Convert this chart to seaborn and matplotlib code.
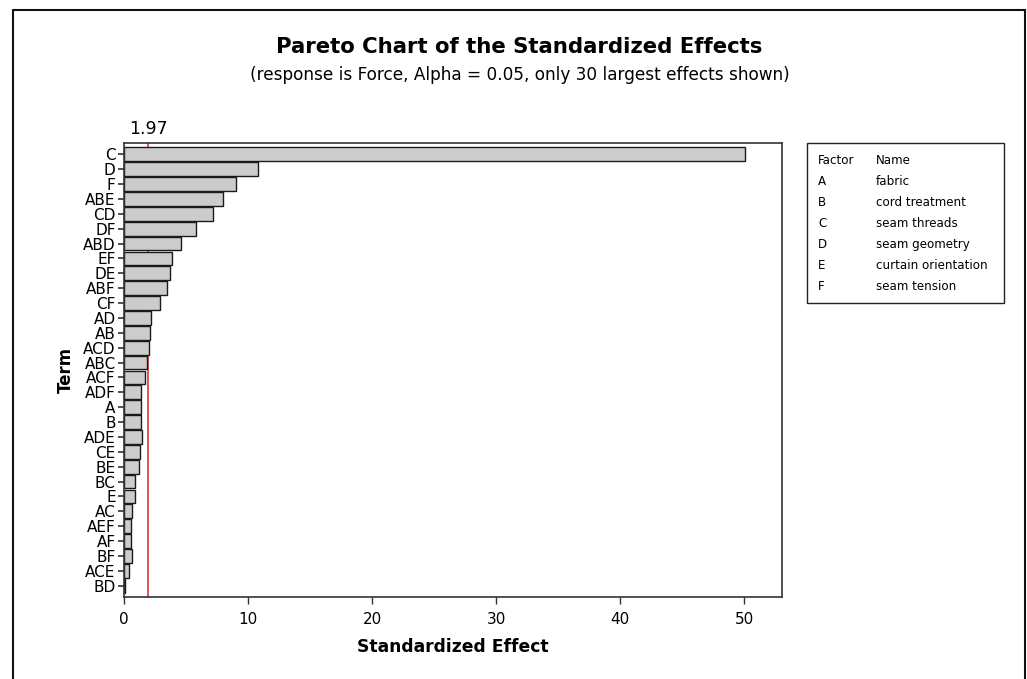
import matplotlib
matplotlib.use("Agg")
import matplotlib.pyplot as plt
import seaborn as sns
from matplotlib.patches import Rectangle
from matplotlib.lines import Line2D

# Data
terms = ["C", "D", "F", "ABE", "CD", "DF", "ABD", "EF", "DE", "ABF",
         "CF", "AD", "AB", "ACD", "ABC", "ACF", "ADF", "A", "B", "ADE",
         "CE", "BE", "BC", "E", "AC", "AEF", "AF", "BF", "ACE", "BD"]
effects = [50.1, 10.8, 9.0, 8.0, 7.2, 5.8, 4.6, 3.9, 3.7, 3.5,
           2.9, 2.2, 2.1, 2.0, 1.87, 1.68, 1.41, 1.41, 1.41, 1.43,
           1.33, 1.22, 0.87, 0.89, 0.63, 0.6, 0.6, 0.62, 0.42, 0.05]
alpha_line = 1.97
factor_codes = ["A", "B", "C", "D", "E", "F"]
factor_names = ["fabric", "cord treatment", "seam threads", "seam geometry",
                "curtain orientation", "seam tension"]

sns.set_theme(style="ticks")
plt.rcParams["font.family"] = ["DejaVu Sans"]
plt.rcParams["text.color"] = "black"
plt.rcParams["axes.labelcolor"] = "black"
plt.rcParams["xtick.color"] = "#333333"
plt.rcParams["ytick.color"] = "#333333"
plt.rcParams["xtick.labelcolor"] = "black"
plt.rcParams["ytick.labelcolor"] = "black"
plt.rcParams["ytick.left"] = True
plt.rcParams["ytick.major.size"] = 4

fig = plt.figure(figsize=(10.27, 6.79), dpi=100)
ax = fig.add_axes([0.1207, 0.1208, 0.6407, 0.6686])

ax.axvline(alpha_line, color="#d42a2a", lw=1.1, zorder=1)
sns.barplot(x=effects, y=terms, orient="h", color="#cccccc", edgecolor="#1a1a1a",
            linewidth=1.0, width=0.93, saturation=1, ax=ax, zorder=2)

n = len(terms)
ax.set_xlim(0, 53.05)
ax.set_ylim(n - 1 + 0.76, -0.76)
ax.set_xticks([0, 10, 20, 30, 40, 50])
ax.tick_params(axis="x", direction="out", length=5, width=1, labelsize=11, pad=6,
               bottom=True)
ax.tick_params(axis="y", which="major", direction="out", length=4, width=1.2,
               labelsize=11, pad=2, left=True, color="#333333")
for t in ax.yaxis.get_major_ticks():
    t.tick1line.set_visible(True)
    t.tick1line.set_markersize(4)
    t.tick1line.set_markeredgewidth(1.2)
for s in ax.spines.values():
    s.set_visible(True)
    s.set_color("#333333")
    s.set_linewidth(1.2)

ax.set_xlabel("Standardized Effect", fontsize=12.3, fontweight="bold", labelpad=8)
ax.set_ylabel("Term", fontsize=12, fontweight="bold", labelpad=6)
ax.text(alpha_line, -0.76 - 0.35, "1.97", ha="center", va="bottom", fontsize=12.5)

fig.text(0.506, 0.931, "Pareto Chart of the Standardized Effects",
         ha="center", va="center", fontsize=15.3, fontweight="bold")
fig.text(0.506, 0.889, "(response is Force, Alpha = 0.05, only 30 largest effects shown)",
         ha="center", va="center", fontsize=12.2)

# factor legend box
fig.add_artist(Rectangle((0.7858, 0.5538), 0.1918, 0.2356, transform=fig.transFigure,
                         fill=False, edgecolor="#222222", lw=1.0))
y0 = 1 - 160 / 679
dy = 21 / 679
fig.text(818 / 1027, y0, "Factor", fontsize=8.6, va="center")
fig.text(876 / 1027, y0, "Name", fontsize=8.6, va="center")
for i, (c, nm) in enumerate(zip(factor_codes, factor_names)):
    fig.text(818 / 1027, y0 - (i + 1) * dy, c, fontsize=8.6, va="center")
    fig.text(876 / 1027, y0 - (i + 1) * dy, nm, fontsize=8.6, va="center")

# outer frame (open at the bottom)
fl, fr, ft = 13 / 1027, 1025 / 1027, 1 - 10 / 679
for xs, ys in [([fl, fl], [0, ft]), ([fl, fr], [ft, ft]), ([fr, fr], [ft, 0])]:
    fig.add_artist(Line2D(xs, ys, transform=fig.transFigure, color="#111111", lw=1.5))

fig.savefig("out.png", dpi=100, facecolor="white")
